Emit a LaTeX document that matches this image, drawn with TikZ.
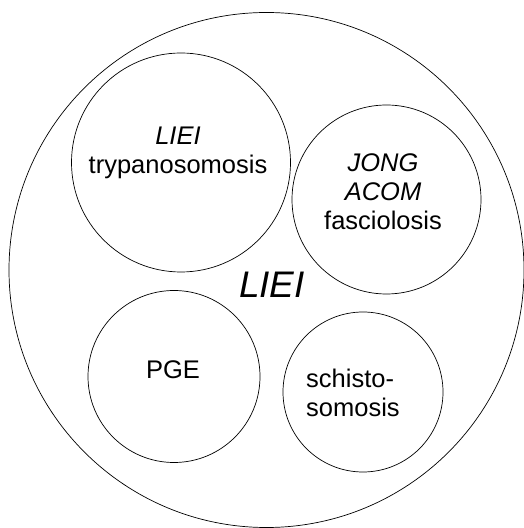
\documentclass[tikz,border=0pt]{standalone}
\usepackage{fontspec}
\setmainfont{Liberation Sans}
\usetikzlibrary{positioning}

\tikzset{
  blob/.style={draw, circle, inner sep=0pt, line width=0.7pt},
  lbl/.style={font=\fontsize{25.5}{29}\selectfont, inner sep=0pt, align=center, anchor=base},
}

\begin{document}
\begin{tikzpicture}[x=1pt, y=1pt]
  \useasboundingbox (0,0) rectangle (523,528);

  \node[blob, minimum size=515pt] (host) at (266.5,258) {};
  \node[blob, minimum size=219pt] (tryp) at (181,365.5) {};
  \node[blob, minimum size=189pt] (fasc) at (386.5,328.5) {};
  \node[blob, minimum size=172pt] (pge) at (174,151.5) {};
  \node[blob, minimum size=160pt] (schi) at (363,136) {};

  % base anchor sits on the last line
  \node[lbl] (tryptext) at (178,354) {\textit{LIEI}\\trypanosomosis};
  \node[lbl] (fasctext) at (383,298) {\textit{JONG}\\\textit{ACOM}\\fasciolosis};
  \node[lbl] (pgetext) at (173,149) {PGE};
  \node[lbl, align=left, anchor=base west] (schitext) at (306,111) {schisto-\\somosis};

  \node[font=\fontsize{37}{44}\selectfont\itshape, inner sep=0pt, anchor=base] (hosttext) at (272,230) {LIEI};
\end{tikzpicture}
\end{document}
